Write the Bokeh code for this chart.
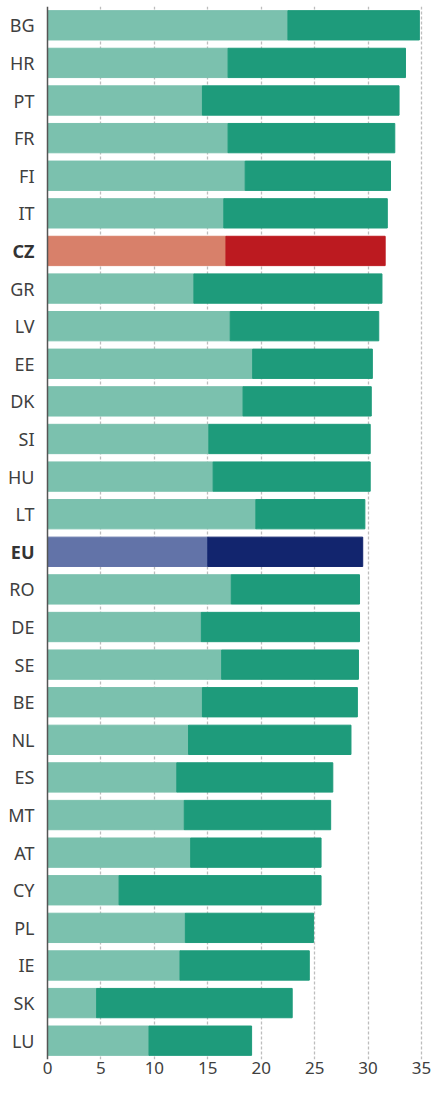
from bokeh.plotting import figure
from bokeh.models import ColumnDataSource, FactorRange, Range1d, FixedTicker, Span
from bokeh.core.properties import value
from bokeh.embed import file_html
from bokeh.resources import INLINE

countries = ["BG", "HR", "PT", "FR", "FI", "IT", "CZ", "GR", "LV", "EE", "DK", "SI", "HU", "LT",
             "EU", "RO", "DE", "SE", "BE", "NL", "ES", "MT", "AT", "CY", "PL", "IE", "SK", "LU"]
part_a = [22.5, 16.9, 14.5, 16.9, 18.5, 16.5, 16.7, 13.7, 17.1, 19.2, 18.3, 15.1, 15.5, 19.5,
          15.0, 17.2, 14.4, 16.3, 14.5, 13.2, 12.1, 12.8, 13.4, 6.7, 12.9, 12.4, 4.6, 9.5]
part_b = [12.3, 16.6, 18.4, 15.6, 13.6, 15.3, 14.9, 17.6, 13.9, 11.2, 12.0, 15.1, 14.7, 10.2,
          14.5, 12.0, 14.8, 12.8, 14.5, 15.2, 14.6, 13.7, 12.2, 18.9, 12.0, 12.1, 18.3, 9.6]
x_ticks = [0, 5, 10, 15, 20, 25, 30, 35]
highlight = ["CZ", "EU"]

LIGHT = {"CZ": "#d8806a", "EU": "#6273a8"}
DARK = {"CZ": "#bc1a20", "EU": "#12256e"}

factors = list(reversed(countries))

# layout (pixels within the figure)
W, H, RB = 431, 1083, 7
AXIS_PX, PX35 = 47, 421
frame_w = W - RB
scale = (PX35 - AXIS_PX) / 35.0
x_start = -AXIS_PX / scale
x_end = x_start + frame_w / scale
label_x = -13 / scale

src = ColumnDataSource(dict(
    y=countries,
    a_left=[0] * len(countries),
    a_right=part_a,
    b_left=part_a,
    b_right=[a + b for a, b in zip(part_a, part_b)],
    c_light=[LIGHT.get(c, "#7bc1ae") for c in countries],
    c_dark=[DARK.get(c, "#1e9b7b") for c in countries],
    lx=[label_x] * len(countries),
    lstyle=["bold" if c in highlight else "normal" for c in countries],
    lcolor=["#333333" if c in highlight else "#404040" for c in countries],
))

p = figure(width=W, height=H, output_backend="svg", toolbar_location=None,
           y_range=FactorRange(factors=factors, range_padding=0),
           x_range=Range1d(x_start, x_end),
           min_border_left=0, min_border_right=RB, min_border_top=6, min_border_bottom=24)

p.hbar(y="y", left="a_left", right="a_right", height=0.78, color="c_light", source=src)
p.hbar(y="y", left="b_left", right="b_right", height=0.78, color="c_dark", source=src)

p.text(x="lx", y="y", text="y", source=src, text_align="right", text_baseline="middle",
       text_font=value("Noto Sans"), text_font_size="18px",
       text_font_style="lstyle", text_color="lcolor")

p.add_layout(Span(location=0, dimension="height", line_color="#555555", line_width=1.5))

p.outline_line_color = None
p.background_fill_color = "white"
p.border_fill_color = "white"

p.ygrid.grid_line_color = None
p.xgrid.ticker = FixedTicker(ticks=x_ticks[1:])
p.xgrid.grid_line_color = "#bdbdbd"
p.xgrid.grid_line_dash = "3 2"
p.xgrid.grid_line_width = 1.3

p.xaxis.ticker = FixedTicker(ticks=x_ticks)
p.xaxis.axis_line_color = None
p.xaxis.major_tick_line_color = None
p.xaxis.minor_tick_line_color = None
p.xaxis.major_tick_out = 0
p.xaxis.major_tick_in = 0
p.xaxis.major_label_text_font = "Noto Sans"
p.xaxis.major_label_text_font_size = "17px"
p.xaxis.major_label_text_color = "#404040"
p.xaxis.major_label_standoff = 2

p.yaxis.visible = False

open("out.html", "w").write(file_html(p, INLINE))
